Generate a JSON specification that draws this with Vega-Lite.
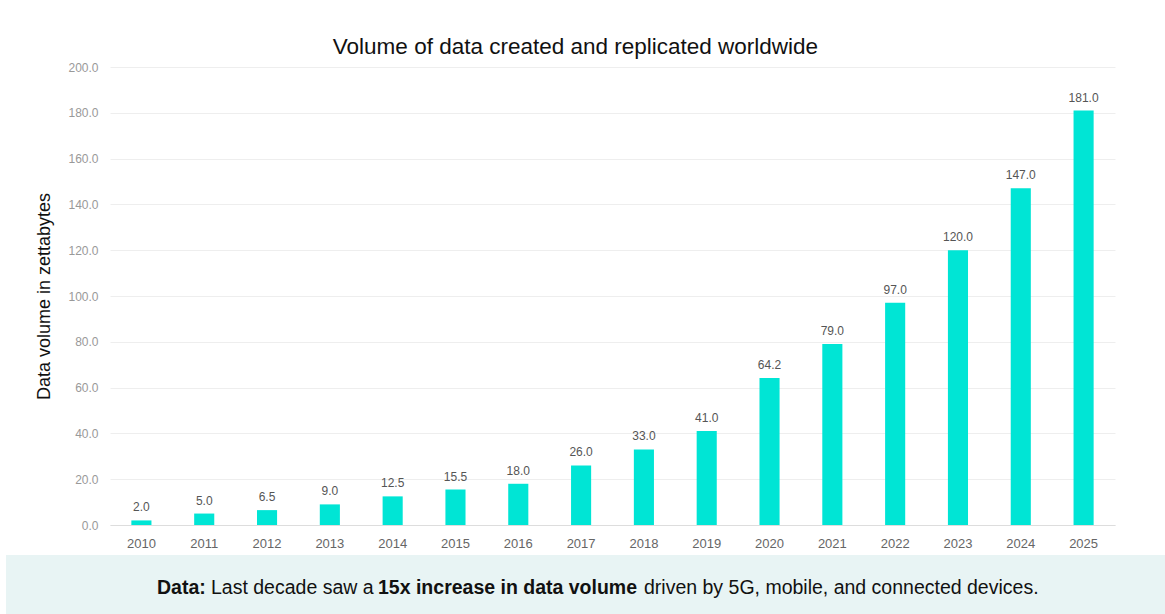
{
  "$schema": "https://vega.github.io/schema/vega-lite/v6.json",
  "padding": {"left": 6, "top": 35, "right": 0, "bottom": 0},
  "background": "white",
  "spacing": 5,
  "config": {
    "font": "Liberation Sans",
    "view": {"stroke": null}
  },
  "vconcat": [
    {
      "spacing": 0,
      "hconcat": [
        {
          "width": 29,
          "height": 10,
          "data": {"values": []},
          "mark": {"type": "text"}
        },
        {
          "width": 1005,
          "height": 458,
          "title": {
            "text": "Volume of data created and replicated worldwide",
            "fontSize": 22.5,
            "fontWeight": "normal",
            "color": "#111111",
            "frame": "bounds",
            "anchor": "middle",
            "offset": 3
          },
          "data": {
            "values": [
              {"year": "2010", "volume": 2.0},
              {"year": "2011", "volume": 5.0},
              {"year": "2012", "volume": 6.5},
              {"year": "2013", "volume": 9.0},
              {"year": "2014", "volume": 12.5},
              {"year": "2015", "volume": 15.5},
              {"year": "2016", "volume": 18.0},
              {"year": "2017", "volume": 26.0},
              {"year": "2018", "volume": 33.0},
              {"year": "2019", "volume": 41.0},
              {"year": "2020", "volume": 64.2},
              {"year": "2021", "volume": 79.0},
              {"year": "2022", "volume": 97.0},
              {"year": "2023", "volume": 120.0},
              {"year": "2024", "volume": 147.0},
              {"year": "2025", "volume": 181.0}
            ]
          },
          "encoding": {
            "x": {
              "field": "year",
              "type": "ordinal",
              "scale": {"paddingInner": 0.68, "paddingOuter": 0.34},
              "axis": {
                "title": null,
                "labelAngle": 0,
                "ticks": false,
                "domainColor": "#dddddd",
                "labelColor": "#666666",
                "labelFontSize": 13,
                "labelPadding": 12,
                "grid": false
              }
            },
            "y": {
              "field": "volume",
              "type": "quantitative",
              "scale": {"domain": [0, 200]},
              "axis": {
                "title": "Data volume in zettabytes",
                "format": ".1f",
                "tickCount": 10,
                "domain": false,
                "ticks": false,
                "labelColor": "#999999",
                "labelFontSize": 12,
                "labelPadding": 12,
                "gridColor": "#eeeeee",
                "titleColor": "#111111",
                "titleFontSize": 18,
                "titleFontWeight": "normal",
                "titlePadding": 14
              }
            }
          },
          "layer": [
            {"mark": {"type": "bar", "color": "#00E5D5"}},
            {
              "mark": {"type": "text", "baseline": "bottom", "dy": -6, "fontSize": 12, "color": "#555555"},
              "encoding": {"text": {"field": "volume", "type": "quantitative", "format": ".1f"}}
            }
          ]
        }
      ]
    },
    {
      "width": 1159,
      "height": 59,
      "view": {"fill": "#E8F4F4", "stroke": null},
      "data": {
        "values": [
          {"pos": 151, "seg": "Data:", "weight": "bold"},
          {"pos": 205, "seg": "Last decade saw a", "weight": "normal"},
          {"pos": 372, "seg": "15x increase in data volume", "weight": "bold"},
          {"pos": 638, "seg": "driven by 5G, mobile, and connected devices.", "weight": "normal"}
        ]
      },
      "encoding": {
        "x": {"field": "pos", "type": "quantitative", "scale": {"domain": [0, 1159]}, "axis": null},
        "text": {"field": "seg"}
      },
      "layer": [
        {
          "transform": [{"filter": "datum.weight === 'bold'"}],
          "mark": {"type": "text", "align": "left", "baseline": "middle", "dy": 3, "fontSize": 19.5, "fontWeight": "bold", "color": "#111111"}
        },
        {
          "transform": [{"filter": "datum.weight === 'normal'"}],
          "mark": {"type": "text", "align": "left", "baseline": "middle", "dy": 3, "fontSize": 19.5, "color": "#111111"}
        }
      ]
    }
  ]
}
